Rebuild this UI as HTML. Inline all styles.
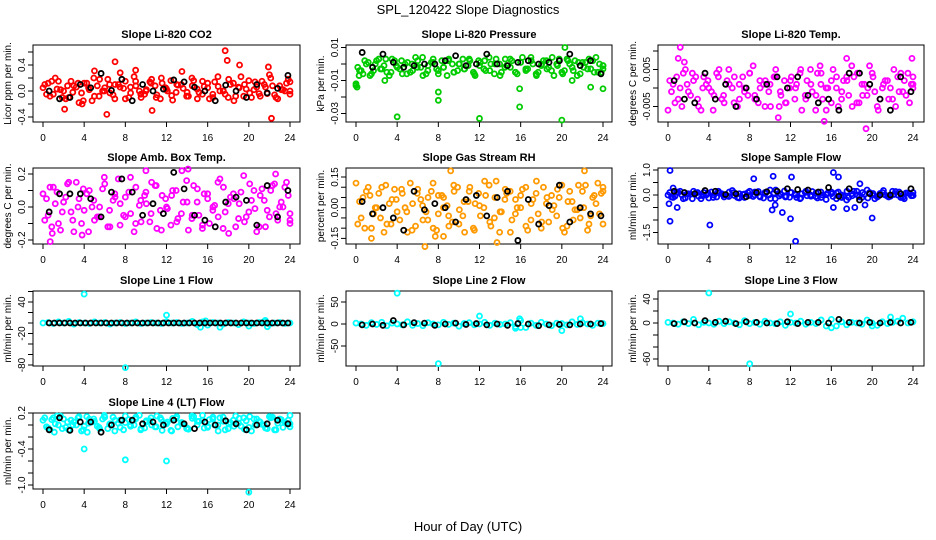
<!DOCTYPE html>
<html><head><meta charset="utf-8"><style>
html,body{margin:0;padding:0;background:#fff;width:936px;height:540px;overflow:hidden}
svg text{font-family:"Liberation Sans",sans-serif;fill:#000}
</style></head><body>
<svg id="chart" width="936" height="540" viewBox="0 0 936 540" xmlns="http://www.w3.org/2000/svg">
<text x="468" y="14" font-size="13" text-anchor="middle">SPL_120422  Slope Diagnostics</text>
<text x="468" y="531" font-size="13" text-anchor="middle">Hour of Day (UTC)</text>
</svg>
<script>
const co2Color=[0.05,0.12,-0.05,0.15,0.0,-0.1,0.08,-0.18,0.12,0.02,-0.08,0.18,0.05,-0.03,0.1,0.28,-0.12,0.06,0.15,-0.05,0.0,0.12,-0.1,0.2,0.03,-0.07,0.1,0.3,-0.02,0.08,-0.12,0.15,0.05,-0.05,0.22,0.0,-0.1,0.12,0.06,-0.08,0.16,0.02,-0.04,0.1,0.25,-0.06,0.08,0.0,0.14];
const co2Color2=[0.1,-0.08,0.2,0.02,-0.12,0.15,0.06,-0.03,0.12,-0.15,0.08,0.0,0.18,-0.06,0.1,0.04,-0.1,0.22,0.0,-0.05,0.14,0.08,-0.12,0.05,0.16,-0.02,0.1,-0.08,0.2,0.03,-0.05,0.12,-0.1,0.07,0.0,0.18,-0.15,0.05,0.1,-0.03,0.14,-0.08,0.06,0.2,-0.1,0.02,0.12,-0.05];
const co2Color3=[-0.05,0.15,0.03,-0.1,0.08,-0.02,0.12,-0.15,0.05,0.2,-0.08,0.0,0.1,-0.12,0.06,0.15,-0.03,0.08,-0.1,0.02,0.18,-0.06,0.12,0.0,-0.14,0.09,0.04,-0.08,0.16,-0.02,0.07,-0.12,0.14,0.0,-0.05,0.1,-0.08,0.22,0.03,-0.1,0.06,0.15,-0.04,0.08,-0.12,0.02,0.18,0.0];
const co2Black=[0.0,-0.12,-0.1,0.1,0.05,0.27,0.01,0.18,-0.15,0.1,0.0,0.03,0.17,0.14,0.06,0.0,-0.15,0.09,0.0,-0.1,0.1,-0.03,0.04,0.24];
const co2Out=[[17.7,0.62],[17.9,0.47],[6.2,-0.36],[22.2,-0.42],[7,0.45],[19.1,0.4],[21.9,0.37],[5,0.31],[9,0.32],[10.6,-0.3],[3.8,-0.2],[2.1,-0.28]];
const pressColor=[-0.013,-0.004,0.0,-0.006,0.002,-0.003,-0.005,0.003,-0.002,-0.006,0.001,-0.004,0.002,-0.007,-0.001,0.003,-0.004,-0.002,0.002,-0.005,0.0,-0.003,0.003,-0.006,-0.001,0.002,-0.004,0.0,-0.007,0.003,-0.002,-0.005,0.001,-0.003,0.004,-0.006,-0.001,0.002,-0.004,0.0,-0.005,0.003,-0.002,-0.007,0.001,-0.003,0.002,-0.005,-0.001];
const pressColor2=[-0.002,-0.006,0.001,-0.004,0.003,-0.001,-0.007,0.002,-0.003,0.0,-0.005,0.004,-0.002,-0.006,0.001,-0.003,0.002,-0.007,0.0,-0.004,0.003,-0.001,-0.005,0.002,-0.003,0.004,-0.006,0.0,-0.002,0.003,-0.005,0.001,-0.004,0.002,-0.007,0.0,-0.003,0.004,-0.001,-0.006,0.002,-0.004,0.001,-0.002,0.003,-0.005,0.0,-0.003];
const pressColor3=[-0.004,0.002,-0.007,0.0,-0.003,0.003,-0.005,-0.001,0.002,-0.006,0.0,-0.002,0.004,-0.004,0.001,-0.006,-0.002,0.003,-0.005,0.0,-0.003,0.002,-0.007,0.001,-0.004,0.0,0.003,-0.005,-0.001,0.002,-0.006,0.004,-0.003,0.0,-0.005,0.002,-0.002,-0.007,0.003,-0.004,0.0,0.002,-0.006,0.001,-0.003,0.004,-0.005,-0.001];
const pressBlack=[0.007,-0.002,0.006,0.001,-0.002,-0.001,0.0,0.0,0.002,0.005,-0.001,0.0,0.006,0.0,-0.001,0.001,0.002,0.0,0.001,0.002,0.006,-0.001,0.002,-0.006];
const pressOut=[[0,-0.012],[0.1,-0.014],[2.8,-0.01],[4,-0.032],[8,-0.017],[8,-0.022],[12,-0.033],[15.9,-0.015],[15.9,-0.026],[20,-0.034],[20.3,0.01],[22.8,-0.014],[24,-0.015],[21,-0.01],[0.3,-0.007]];
const tempColor=[-0.006,0.001,-0.003,0.004,-0.001,0.002,-0.005,0.003,0.0,-0.002,0.005,-0.004,0.001,0.003,-0.003,0.0,0.004,-0.002,0.002,-0.005,0.001,0.003,-0.001,-0.004,0.002,0.0,0.005,-0.003,0.001,-0.002,0.004,-0.006,0.002,0.0,-0.003,0.003,0.006,-0.004,0.001,-0.002,0.004,-0.005,0.0,0.002,-0.003,0.003,-0.001,0.004,0.001];
const tempColor2=[0.002,-0.004,0.0,0.005,-0.002,0.003,-0.006,0.001,-0.001,0.004,-0.003,0.002,0.0,-0.005,0.003,-0.002,0.006,-0.004,0.001,-0.001,0.003,-0.005,0.002,0.0,-0.003,0.004,-0.002,0.005,-0.006,0.001,0.0,-0.004,0.003,-0.001,0.002,-0.005,0.004,-0.002,0.0,0.003,-0.006,0.001,-0.003,0.005,-0.001,0.002,-0.004,0.0];
const tempColor3=[-0.001,0.003,-0.005,0.001,0.004,-0.003,0.0,0.002,-0.006,0.003,-0.002,0.005,-0.004,0.001,-0.001,0.004,-0.003,0.0,0.002,-0.005,0.005,-0.002,-0.004,0.003,0.001,-0.006,0.002,-0.001,0.004,-0.003,0.0,0.005,-0.005,0.002,-0.002,0.003,-0.004,0.001,0.006,-0.001,-0.003,0.002,0.0,-0.005,0.004,-0.002,0.001,0.003];
const tempBlack=[0.002,-0.003,-0.004,0.004,-0.003,0.001,-0.005,0.0,-0.003,0.001,0.003,0.0,0.003,-0.002,-0.004,-0.003,-0.006,0.004,0.004,0.001,-0.003,-0.006,0.003,-0.001];
const tempOut=[[1.2,0.011],[1.0,0.008],[1.6,0.007],[23.9,0.008],[19.4,-0.011],[10.8,-0.008],[15.3,-0.009],[17.5,0.008],[14.9,0.006]];
const ambColor=[0.08,-0.05,0.12,-0.1,0.03,0.15,-0.15,0.05,-0.02,0.1,-0.08,0.0,0.14,-0.12,0.06,0.02,-0.06,0.18,-0.1,0.04,0.09,-0.04,0.13,-0.14,0.0,0.07,-0.09,0.22,0.03,-0.05,0.11,-0.11,0.05,-0.02,0.15,-0.13,0.02,0.08,-0.07,0.19,-0.03,0.1,-0.12,0.04,-0.06,0.14,0.0,0.12,-0.1];
const ambColor2=[-0.08,0.12,0.02,-0.14,0.06,-0.03,0.15,-0.1,0.08,0.0,-0.06,0.11,-0.12,0.04,0.17,-0.05,0.09,-0.15,0.01,0.07,-0.09,0.13,-0.02,0.05,-0.11,0.1,-0.04,0.16,-0.07,0.03,-0.13,0.08,0.0,-0.06,0.12,-0.16,0.05,0.02,-0.09,0.14,-0.01,0.07,-0.12,0.1,-0.04,0.03,0.15,-0.08];
const ambColor3=[0.05,-0.12,0.09,-0.03,0.14,-0.08,0.0,0.11,-0.15,0.04,-0.06,0.18,-0.02,0.08,-0.11,0.06,-0.04,0.12,-0.09,0.02,0.15,-0.13,0.07,-0.01,0.1,-0.07,0.03,-0.14,0.13,-0.05,0.08,-0.1,0.01,0.17,-0.03,0.06,-0.12,0.09,-0.06,0.04,-0.15,0.11,-0.02,0.13,-0.08,0.0,0.07,-0.04];
const ambBlack=[-0.03,0.08,0.08,0.08,0.05,-0.06,0.09,0.17,0.09,-0.05,0.02,-0.04,0.21,0.11,-0.05,-0.08,-0.12,0.03,0.06,0.04,-0.11,0.13,-0.06,0.1];
const ambOut=[[0.7,-0.21],[0.9,-0.16],[14.1,0.23],[22.6,0.2],[10.0,0.22],[3.8,-0.17]];
const rhColor=[0.12,-0.05,0.08,-0.1,0.0,0.1,-0.08,0.04,-0.02,0.07,-0.12,0.02,0.09,-0.06,0.05,-0.1,0.06,0.0,-0.04,0.11,-0.08,0.03,0.08,-0.11,0.01,0.13,-0.07,0.05,-0.02,0.09,-0.12,0.04,0.0,0.1,-0.06,0.07,-0.1,0.02,0.06,-0.04,0.11,-0.09,0.03,-0.01,0.08,-0.11,0.05,0.12,0.08];
const rhColor2=[-0.08,0.05,0.1,-0.03,0.07,-0.12,0.02,0.09,-0.06,0.0,0.12,-0.09,0.04,-0.02,0.08,-0.11,0.06,0.01,-0.07,0.1,-0.04,0.03,-0.1,0.07,0.0,0.11,-0.05,-0.12,0.04,0.08,-0.03,0.06,-0.09,0.02,0.13,-0.07,0.05,-0.01,0.09,-0.1,0.03,-0.06,0.11,0.0,-0.08,0.06,-0.03,0.1];
const rhColor3=[0.03,-0.1,0.06,0.0,-0.05,0.11,-0.08,0.04,0.09,-0.02,-0.11,0.07,0.01,-0.06,0.12,-0.03,0.05,-0.09,0.08,-0.01,-0.12,0.1,0.02,-0.04,0.06,-0.09,0.13,-0.02,0.07,-0.06,0.0,0.09,-0.11,0.04,-0.03,0.1,-0.07,0.01,0.05,-0.12,0.08,-0.01,-0.05,0.11,-0.04,0.02,0.07,-0.08];
const rhBlack=[0.03,-0.03,0.0,-0.05,-0.11,0.08,-0.01,0.02,0.0,-0.07,0.04,0.06,-0.04,0.05,0.08,-0.16,0.04,-0.08,0.01,0.11,-0.07,0.0,-0.03,-0.04];
const rhOut=[[9.2,0.18],[22.2,0.18],[6.7,-0.19],[1.5,-0.15],[13.7,-0.17],[8.5,-0.14],[7.7,-0.14]];
const sampleColor=[0.0,-0.1,0.1,-0.15,0.05,0.15,-0.05,0.1,-0.12,0.0,0.08,-0.08,0.12,-0.02,0.05,-0.1,0.15,0.0,-0.05,0.1,0.2,-0.15,0.05,-0.08,0.1,0.0,-0.12,0.15,-0.05,0.08,-0.1,0.02,0.12,-0.15,0.0,-0.2,0.05,0.15,-0.1,0.2,0.0,-0.08,0.1,-0.05,0.15,0.0,-0.1,0.08,-0.02];
const sampleColor2=[0.1,-0.05,0.15,-0.12,0.03,0.08,-0.15,0.0,0.12,-0.08,0.05,-0.03,0.18,-0.1,0.02,0.1,-0.06,0.14,-0.12,0.0,0.08,-0.04,0.16,-0.09,0.03,-0.15,0.1,0.0,-0.06,0.12,-0.18,0.05,0.08,-0.1,0.15,-0.03,0.0,0.1,-0.12,0.06,-0.05,0.18,-0.08,0.02,0.12,-0.15,0.05,-0.02];
const sampleColor3=[-0.08,0.12,0.0,0.05,-0.15,0.1,-0.03,0.08,-0.1,0.15,0.0,-0.06,0.1,-0.12,0.04,-0.02,0.12,-0.08,0.06,-0.14,0.2,0.02,-0.05,0.1,-0.1,0.05,-0.03,0.14,-0.12,0.0,0.08,-0.06,0.12,-0.04,-0.1,0.15,-0.08,0.03,0.1,-0.15,0.06,0.0,-0.05,0.14,-0.1,0.08,-0.03,0.1];
const sampleBlack=[0.15,0.1,0.05,0.18,0.15,0.02,0.05,-0.07,0.1,0.13,0.15,0.25,0.22,0.2,0.12,0.3,-0.05,0.25,-0.2,0.05,0.0,0.0,0.05,0.25];
const sampleOut=[[0.2,0.98],[0.2,-1.05],[0.1,-0.35],[0.5,0.28],[0.9,-0.5],[4.1,-1.2],[8.4,0.65],[10.3,0.75],[10.2,-0.6],[10.5,-0.4],[11.2,-0.7],[12,-0.95],[12.1,0.72],[12.5,-1.85],[16.2,0.9],[16.7,0.72],[16.2,-0.5],[20,-0.92],[18.3,-0.5],[19.3,-0.4],[17.5,-0.55],[18.8,0.45]];
const line1Color=[0,1,-1,2,0,3,-2,1,0,-1,2,0,1,-2,0,1,-1,0,2,-1,0,1,0,-1,2,0,1,-1,0,3,-3,2,-4,1,0,-2,1,0,-3,2,0,-1,1,3,-2,0,1,-1,0];
const line1Black=[0,0,0,0,0,0,0,0,0,0,0,0,0,0,0,0,0,0,0,0,0,0,0,0,0,0,0,0,0,0,0,0,0,0,0,0,0,0,0,0,0,0,0,0,0,0,0];
const line1Out=[[4,55],[8,-85],[12,15],[15.3,-8],[15.8,4],[17.2,-8],[21.6,5],[20,-6],[21.8,-7]];
const line2Color=[2,0,-3,3,-1,4,-4,2,0,-2,5,-3,1,-4,3,0,-2,4,-1,2,-5,1,3,-2,0,4,-3,2,-1,0,3,-6,8,-8,2,-3,4,0,-4,2,1,-2,5,-1,3,0,-3,2,1];
const line2Black=[-2,0,-3,8,-2,3,2,-3,0,2,-1,1,-2,0,-3,1,0,-4,-2,-1,-2,0,0,1];
const line2Out=[[4,70],[8,-90],[12,18],[20,-15],[21.8,12],[15.9,12],[15.5,-10],[16,-8]];
const line3Color=[1,0,-2,2,-1,6,-3,1,0,-2,3,-1,2,0,-3,4,-1,1,-2,3,0,-1,2,-4,1,0,3,-2,1,-1,5,-5,6,-5,2,-3,1,0,-2,5,0,-4,2,-1,1,3,8,0,2];
const line3Black=[-1,2,0,4,1,3,-1,2,1,0,-1,2,-1,1,1,0,6,1,0,1,0,1,0,1];
const line3Out=[[4,50],[8,-68],[12,15],[21.8,10],[15,5],[16,-8],[20,-5]];
const line4Color=[0.08,-0.05,0.12,0.0,0.1,-0.08,0.05,0.14,-0.02,0.1,0.06,-0.06,0.13,0.02,0.08,-0.04,0.15,0.0,0.1,-0.08,0.05,0.12,-0.03,0.09,0.02,-0.1,0.14,0.04,-0.05,0.11,0.06,0.16,-0.02,0.1,0.0,0.13,-0.06,0.08,0.03,0.12,-0.04,0.1,0.06,0.0,0.14,-0.08,0.1,0.04,0.02];
const line4Color2=[0.12,-0.08,0.02,0.15,-0.04,0.08,0.0,-0.1,0.14,0.05,-0.02,0.1,-0.06,0.13,0.03,-0.08,0.09,0.0,0.16,-0.05,0.07,-0.03,0.12,0.02,-0.09,0.11,0.04,-0.06,0.15,0.0,0.08,-0.04,0.13,-0.1,0.06,0.02,-0.02,0.11,-0.07,0.14,0.0,0.05,-0.05,0.12,-0.08,0.09,0.03,-0.03];
const line4Color3=[-0.03,0.09,0.15,-0.06,0.05,0.0,0.12,-0.08,0.03,0.1,-0.04,0.16,0.01,-0.1,0.08,0.04,-0.02,0.13,-0.06,0.07,0.0,0.15,-0.09,0.05,0.11,-0.03,0.02,-0.07,0.14,0.06,-0.05,0.09,0.0,0.12,-0.08,0.04,0.15,-0.02,0.07,-0.1,0.1,0.01,-0.06,0.13,0.03,-0.04,0.08,0.16];
const line4Black=[-0.08,0.12,-0.09,0.05,0.05,-0.12,0.0,0.08,0.08,0.02,0.05,0.0,0.08,0.02,-0.06,0.05,0.0,0.07,0.02,-0.08,0.0,0.02,0.08,0.02];
const line4Out=[[4,-0.4],[8,-0.58],[12,-0.6],[20,-1.12],[4.3,-0.12],[1.1,-0.12]];
const xTicks=[0,4,8,12,16,20,24];

const NS="http://www.w3.org/2000/svg";
const svg=document.getElementById('chart');
function mk(tag,attrs,parent){const e=document.createElementNS(NS,tag);for(const k in attrs)e.setAttribute(k,attrs[k]);(parent||svg).appendChild(e);return e;}
const cols=[{bl:33,br:300,x0:43,x24:290},{bl:346,br:612,x0:356,x24:603},{bl:658,br:924,x0:668,x24:913}];
const rows=[{t:45,b:122},{t:168,b:244},{t:291,b:366},{t:413,b:489}];
const panels=[
 {name:'co2',title:'Slope Li-820 CO2',yl:'Licor ppm per min.',c:0,r:0,col:'#ff0000',v0:0,p0:91,v1:0.4,p1:65,ticks:[-0.4,-0.2,0,0.2,0.4,0.6],labs:[[-0.4,'-0.4'],[0,'0.0'],[0.4,'0.4']],colors:[co2Color,co2Color2,co2Color3],black:co2Black,out:co2Out},
 {name:'pressure',title:'Slope Li-820 Pressure',yl:'kPa per min.',c:1,r:0,col:'#00cc00',v0:0,p0:64,v1:0.01,p1:47.5,ticks:[-0.03,-0.02,-0.01,0,0.01],labs:[[0.01,'0.01'],[-0.01,'-0.01'],[-0.03,'-0.03']],colors:[pressColor,pressColor2,pressColor3],black:pressBlack,out:pressOut},
 {name:'licor-temp',title:'Slope Li-820 Temp.',yl:'degrees C per min.',c:2,r:0,col:'#ff00ff',v0:0,p0:88,v1:0.005,p1:69.5,ticks:[-0.005,0,0.005,0.01],labs:[[0.005,'0.005'],[-0.005,'-0.005']],colors:[tempColor,tempColor2,tempColor3],black:tempBlack,out:tempOut},
 {name:'amb-box-temp',title:'Slope Amb. Box Temp.',yl:'degrees C per min.',c:0,r:1,col:'#ff00ff',v0:0,p0:207,v1:0.2,p1:174,ticks:[-0.2,-0.1,0,0.1,0.2],labs:[[0.2,'0.2'],[0,'0.0'],[-0.2,'-0.2']],colors:[ambColor,ambColor2,ambColor3],black:ambBlack,out:ambOut},
 {name:'gas-stream-rh',title:'Slope Gas Stream RH',yl:'percent per min.',c:1,r:1,col:'#ff9900',v0:0,p0:207.7,v1:0.15,p1:177,ticks:[-0.15,-0.1,-0.05,0,0.05,0.1,0.15],labs:[[0.15,'0.15'],[0,'0.00'],[-0.15,'-0.15']],colors:[rhColor,rhColor2,rhColor3],black:rhBlack,out:rhOut},
 {name:'sample-flow',title:'Slope Sample Flow',yl:'ml/min per min.',c:2,r:1,col:'#0000ff',v0:0,p0:195,v1:1,p1:170,ticks:[-1.5,-1,-0.5,0,0.5,1],labs:[[1,'1.0'],[0,'0.0'],[-1.5,'-1.5']],colors:[sampleColor,sampleColor2,sampleColor3],black:sampleBlack,out:sampleOut},
 {name:'line1-flow',title:'Slope Line 1 Flow',yl:'ml/min per min.',c:0,r:2,col:'#00ffff',v0:0,p0:323,v1:40,p1:302,ticks:[-80,-60,-40,-20,0,20,40,60],labs:[[40,'40'],[-20,'-20'],[-80,'-80']],colors:[line1Color],black:line1Black,out:line1Out},
 {name:'line2-flow',title:'Slope Line 2 Flow',yl:'ml/min per min.',c:1,r:2,col:'#00ffff',v0:0,p0:324,v1:50,p1:302,ticks:[-50,0,50],labs:[[50,'50'],[0,'0'],[-50,'-50']],colors:[line2Color],black:line2Black,out:line2Out},
 {name:'line3-flow',title:'Slope Line 3 Flow',yl:'ml/min per min.',c:2,r:2,col:'#00ffff',v0:0,p0:323,v1:40,p1:299,ticks:[-60,-40,-20,0,20,40],labs:[[40,'40'],[0,'0'],[-60,'-60']],colors:[line3Color],black:line3Black,out:line3Out},
 {name:'line4-flow',title:'Slope Line 4 (LT) Flow',yl:'ml/min per min.',c:0,r:3,col:'#00ffff',v0:0,p0:425,v1:0.2,p1:413,ticks:[-1,-0.8,-0.6,-0.4,-0.2,0,0.2],labs:[[0.2,'0.2'],[-0.4,'-0.4'],[-1,'-1.0']],colors:[line4Color,line4Color2,line4Color3],black:line4Black,out:line4Out}
];
panels.forEach(p=>{
 const C=cols[p.c],R=rows[p.r];
 const xs=h=>C.x0+(C.x24-C.x0)*h/24;
 const ys=v=>p.p0+(v-p.v0)*(p.p1-p.p0)/(p.v1-p.v0);
 const g=mk('g',{});
 
 
 const t=mk('text',{x:(C.bl+C.br)/2,y:R.t-7,'font-size':11,'font-weight':'bold','text-anchor':'middle'},g);t.textContent=p.title;
 
 
 const yt=mk('text',{transform:`translate(${C.bl-22},${(R.t+R.b)/2}) rotate(-90)`,'font-size':10,'text-anchor':'middle'},g);yt.textContent=p.yl;
 
 
 const box=mk('rect',{x:C.bl,y:R.t,width:C.br-C.bl,height:R.b-R.t,fill:'none',stroke:'#000','stroke-width':1},g);
 
 
 const ax=mk('g',{},g);
 
 
 mk('line',{x1:xs(0),x2:xs(24),y1:R.b,y2:R.b,stroke:'#000'},ax);
 xTicks.forEach(h=>{mk('line',{x1:xs(h),x2:xs(h),y1:R.b,y2:R.b+5,stroke:'#000'},ax);
  const l=mk('text',{x:xs(h),y:R.b+19,'font-size':10,'text-anchor':'middle'},ax);l.textContent=h;});
 const ay=mk('g',{},g);
 
 
 p.ticks.forEach(v=>{const y=ys(v);if(y<R.t-1||y>R.b+1)return;mk('line',{x1:C.bl-5,x2:C.bl,y1:y,y2:y,stroke:'#000'},ay);});
 p.labs.forEach(([v,s])=>{const l=mk('text',{transform:`translate(${C.bl-8},${ys(v)}) rotate(-90)`,'font-size':10,'text-anchor':'middle'},ay);l.textContent=s;});
 const cs=mk('g',{fill:'none',stroke:p.col,'stroke-width':1.8},g);
 
 
 p.colors.forEach((arr,k)=>{
  const off=k*24/(arr.length-1)/3;
  arr.forEach((v,i)=>{const h=Math.min(24,i*24/(arr.length-1)+off);
   const c=mk('circle',{cx:xs(h),cy:ys(v),r:2.5},cs);
   
   });
 });
 p.out.forEach(([h,v])=>{const c=mk('circle',{cx:xs(h),cy:ys(v),r:2.5},cs);
  
  });
 const bs=mk('g',{fill:'none',stroke:'#000','stroke-width':1.8},g);
 
 
 p.black.forEach((v,i)=>{const c=mk('circle',{cx:xs(0.6+i*23.2/(p.black.length-1)),cy:ys(v),r:2.5},bs);
  
  });
});
</script>
</body></html>
